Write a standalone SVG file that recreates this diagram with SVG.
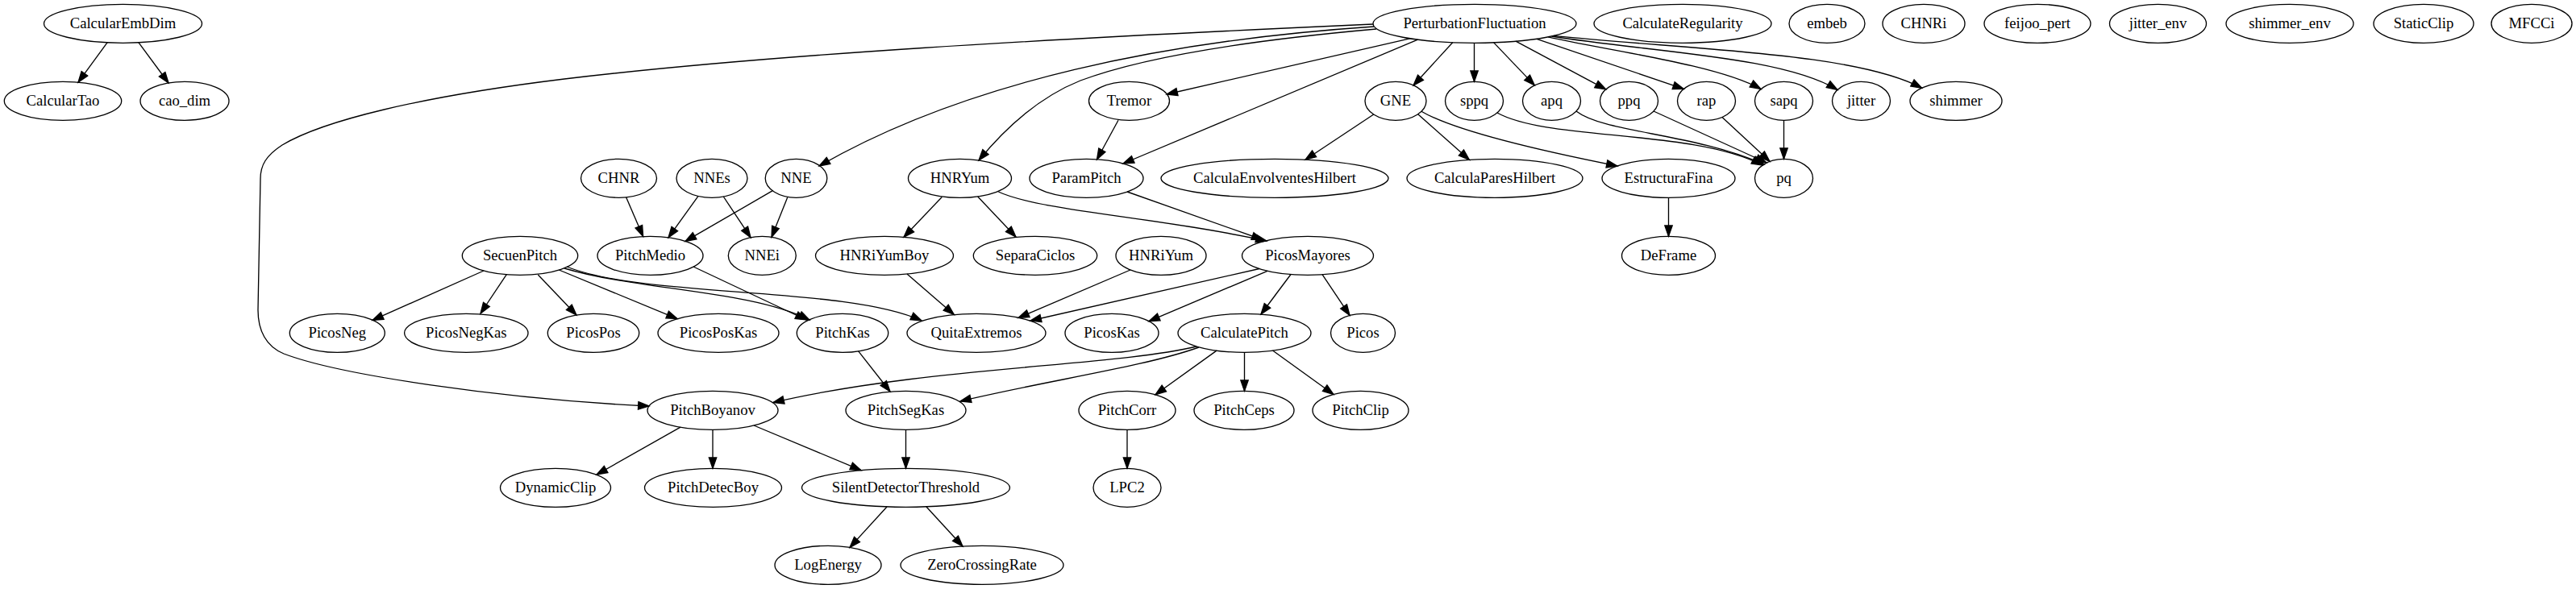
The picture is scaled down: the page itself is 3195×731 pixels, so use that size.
<svg xmlns="http://www.w3.org/2000/svg" width="3195" height="731" viewBox="0 0 3195 731">
<style>
.n ellipse{fill:none;stroke:#000;stroke-width:1.33}
.n text{font-family:"Liberation Serif","Times New Roman",serif;font-size:18.67px;text-anchor:middle;fill:#000}
#edges path{fill:none;stroke:#000;stroke-width:1.33;marker-end:url(#ah)}
</style>
<defs>
<marker id="ah" markerUnits="userSpaceOnUse" markerWidth="20" markerHeight="20" refX="13.33" refY="4.67" orient="auto" overflow="visible"><path d="M0,0 L13.33,4.67 L0,9.33 Z" fill="#000" stroke="#000" stroke-width="1.33"/></marker>
</defs>
<rect width="3195" height="731" fill="#fff"/>
<g id="edges">
<path d="M133,52.8 L97,102.1"/>
<path d="M172,52.8 L209,103"/>
<path d="M1703,30 C1300,48 950,68 700,98 C520,120 400,150 350,180 C330,193 323,205 323,222 L320,385 C320,410 330,430 352,439 C420,465 620,495 805,504"/>
<path d="M1704,33 C1450,50 1200,100 1016,206"/>
<path d="M1707,36 C1550,50 1420,70 1340,100 C1290,120 1250,155 1214,199"/>
<path d="M1748.5,47.8 L1447,117"/>
<path d="M1758.5,49.2 L1393,203"/>
<path d="M1801.7,52.7 L1753,106"/>
<path d="M1828.5,53.3 L1828.5,101.3"/>
<path d="M1852.7,52.9 L1903.3,105.9"/>
<path d="M1880,51.2 L1991.7,110.9"/>
<path d="M1906,48.3 L2088.3,110.4"/>
<path d="M1920,45.9 C1990,62 2130,80 2184,110.6"/>
<path d="M1924.5,45 C2050,65 2210,70 2279,111.5"/>
<path d="M1927,44.4 C2100,62 2300,65 2383.7,109.2"/>
<path d="M1387,149.3 L1360.5,198"/>
<path d="M1703.7,142 L1619,198.2"/>
<path d="M1758.7,141.7 L1822.4,198.3"/>
<path d="M1763,138.2 C1800,160 1900,185 2006,206"/>
<path d="M2069.5,245.3 L2069.5,293.3"/>
<path d="M1857,140 C1920,175 2100,160 2186,205"/>
<path d="M1955,138 C1990,165 2100,165 2188,204"/>
<path d="M2051,138 L2191,202"/>
<path d="M2136,145.5 L2195,200.3"/>
<path d="M2212.5,149.3 L2212.5,197.3"/>
<path d="M776.6,244.8 L797.6,293.5"/>
<path d="M866,243.4 L829,294.8"/>
<path d="M897.3,244 L931,294.7"/>
<path d="M958.3,236.7 L850,299.4"/>
<path d="M976.7,245 L957,294.3"/>
<path d="M1168.3,244.5 L1121,294.3"/>
<path d="M1212.7,244 L1260,294"/>
<path d="M1238.3,238 C1290,262 1440,270 1571,299"/>
<path d="M1398,238 L1566,297.5"/>
<path d="M600,336 L462,397.4"/>
<path d="M628.3,340.6 L596,389"/>
<path d="M667.3,341 L715,391"/>
<path d="M693.3,335 L840,395.6"/>
<path d="M700,333 C790,360 930,360 1004,397"/>
<path d="M703,331 C800,370 1050,355 1143,398"/>
<path d="M860,331 L1000,397"/>
<path d="M1125,340 L1183.3,390.5"/>
<path d="M1402,335 L1263,394.5"/>
<path d="M1562,333.5 L1278,398"/>
<path d="M1572,336.3 L1425,398.7"/>
<path d="M1601,340.5 L1564,390"/>
<path d="M1640,340.7 L1674,391.4"/>
<path d="M1064.5,435.7 L1104,486"/>
<path d="M1484,430 C1380,455 1150,455 959,499.5"/>
<path d="M1487,431 C1420,455 1300,472 1191,498"/>
<path d="M1509,435.1 L1433,489.8"/>
<path d="M1543.5,437.3 L1543.5,485.3"/>
<path d="M1578.5,435 L1654,489.5"/>
<path d="M844,530.2 L740,589"/>
<path d="M884,533.3 L884,581.3"/>
<path d="M935,528 L1068,583.6"/>
<path d="M1123.5,533.3 L1123.5,581.3"/>
<path d="M1398,533.3 L1398,581.3"/>
<path d="M1100,629 L1054,679.4"/>
<path d="M1149,629 L1194,678"/>
</g>
<g id="CalcularEmbDim" class="n"><ellipse cx="152.5" cy="29.3" rx="98" ry="24"/><text x="152.5" y="34.9">CalcularEmbDim</text></g>
<g id="PerturbationFluctuation" class="n"><ellipse cx="1829" cy="29.3" rx="126" ry="24"/><text x="1829" y="34.9">PerturbationFluctuation</text></g>
<g id="CalculateRegularity" class="n"><ellipse cx="2087" cy="29.3" rx="110" ry="24"/><text x="2087" y="34.9">CalculateRegularity</text></g>
<g id="embeb" class="n"><ellipse cx="2266" cy="29.3" rx="47" ry="24"/><text x="2266" y="34.9">embeb</text></g>
<g id="CHNRi" class="n"><ellipse cx="2386" cy="29.3" rx="51" ry="24"/><text x="2386" y="34.9">CHNRi</text></g>
<g id="feijoo_pert" class="n"><ellipse cx="2527" cy="29.3" rx="66" ry="24"/><text x="2527" y="34.9">feijoo_pert</text></g>
<g id="jitter_env" class="n"><ellipse cx="2676.5" cy="29.3" rx="60" ry="24"/><text x="2676.5" y="34.9">jitter_env</text></g>
<g id="shimmer_env" class="n"><ellipse cx="2840" cy="29.3" rx="79" ry="24"/><text x="2840" y="34.9">shimmer_env</text></g>
<g id="StaticClip" class="n"><ellipse cx="3006" cy="29.3" rx="62" ry="24"/><text x="3006" y="34.9">StaticClip</text></g>
<g id="MFCCi" class="n"><ellipse cx="3140" cy="29.3" rx="50" ry="24"/><text x="3140" y="34.9">MFCCi</text></g>
<g id="CalcularTao" class="n"><ellipse cx="78" cy="125.3" rx="72.7" ry="24"/><text x="78" y="130.9">CalcularTao</text></g>
<g id="cao_dim" class="n"><ellipse cx="229" cy="125.3" rx="55" ry="24"/><text x="229" y="130.9">cao_dim</text></g>
<g id="Tremor" class="n"><ellipse cx="1400.5" cy="125.3" rx="50" ry="24"/><text x="1400.5" y="130.9">Tremor</text></g>
<g id="GNE" class="n"><ellipse cx="1731" cy="125.3" rx="38" ry="24"/><text x="1731" y="130.9">GNE</text></g>
<g id="sppq" class="n"><ellipse cx="1828.5" cy="125.3" rx="36" ry="24"/><text x="1828.5" y="130.9">sppq</text></g>
<g id="apq" class="n"><ellipse cx="1924.5" cy="125.3" rx="36" ry="24"/><text x="1924.5" y="130.9">apq</text></g>
<g id="ppq" class="n"><ellipse cx="2020.5" cy="125.3" rx="36" ry="24"/><text x="2020.5" y="130.9">ppq</text></g>
<g id="rap" class="n"><ellipse cx="2116.5" cy="125.3" rx="36" ry="24"/><text x="2116.5" y="130.9">rap</text></g>
<g id="sapq" class="n"><ellipse cx="2212.5" cy="125.3" rx="36" ry="24"/><text x="2212.5" y="130.9">sapq</text></g>
<g id="jitter" class="n"><ellipse cx="2308.5" cy="125.3" rx="36" ry="24"/><text x="2308.5" y="130.9">jitter</text></g>
<g id="shimmer" class="n"><ellipse cx="2426" cy="125.3" rx="57" ry="24"/><text x="2426" y="130.9">shimmer</text></g>
<g id="CHNR" class="n"><ellipse cx="767.5" cy="221.3" rx="47" ry="24"/><text x="767.5" y="226.9">CHNR</text></g>
<g id="NNEs" class="n"><ellipse cx="883" cy="221.3" rx="44" ry="24"/><text x="883" y="226.9">NNEs</text></g>
<g id="NNE" class="n"><ellipse cx="987.5" cy="221.3" rx="38.3" ry="24"/><text x="987.5" y="226.9">NNE</text></g>
<g id="HNRYum" class="n"><ellipse cx="1190.5" cy="221.3" rx="64" ry="24"/><text x="1190.5" y="226.9">HNRYum</text></g>
<g id="ParamPitch" class="n"><ellipse cx="1347.5" cy="221.3" rx="70.5" ry="24"/><text x="1347.5" y="226.9">ParamPitch</text></g>
<g id="CalculaEnvolventesHilbert" class="n"><ellipse cx="1581" cy="221.3" rx="141" ry="24"/><text x="1581" y="226.9">CalculaEnvolventesHilbert</text></g>
<g id="CalculaParesHilbert" class="n"><ellipse cx="1854" cy="221.3" rx="109" ry="24"/><text x="1854" y="226.9">CalculaParesHilbert</text></g>
<g id="EstructuraFina" class="n"><ellipse cx="2069.5" cy="221.3" rx="82.5" ry="24"/><text x="2069.5" y="226.9">EstructuraFina</text></g>
<g id="pq" class="n"><ellipse cx="2212.5" cy="221.3" rx="36" ry="24"/><text x="2212.5" y="226.9">pq</text></g>
<g id="SecuenPitch" class="n"><ellipse cx="645" cy="317.3" rx="71.7" ry="24"/><text x="645" y="322.9">SecuenPitch</text></g>
<g id="PitchMedio" class="n"><ellipse cx="806.5" cy="317.3" rx="65.5" ry="24"/><text x="806.5" y="322.9">PitchMedio</text></g>
<g id="NNEi" class="n"><ellipse cx="945.3" cy="317.3" rx="42" ry="24"/><text x="945.3" y="322.9">NNEi</text></g>
<g id="HNRiYumBoy" class="n"><ellipse cx="1097" cy="317.3" rx="85.5" ry="24"/><text x="1097" y="322.9">HNRiYumBoy</text></g>
<g id="SeparaCiclos" class="n"><ellipse cx="1284" cy="317.3" rx="76.7" ry="24"/><text x="1284" y="322.9">SeparaCiclos</text></g>
<g id="HNRiYum" class="n"><ellipse cx="1440" cy="317.3" rx="56" ry="24"/><text x="1440" y="322.9">HNRiYum</text></g>
<g id="PicosMayores" class="n"><ellipse cx="1622" cy="317.3" rx="81.5" ry="24"/><text x="1622" y="322.9">PicosMayores</text></g>
<g id="DeFrame" class="n"><ellipse cx="2069.5" cy="317.3" rx="58" ry="24"/><text x="2069.5" y="322.9">DeFrame</text></g>
<g id="PicosNeg" class="n"><ellipse cx="418.3" cy="413.3" rx="59" ry="24"/><text x="418.3" y="418.9">PicosNeg</text></g>
<g id="PicosNegKas" class="n"><ellipse cx="578.3" cy="413.3" rx="76.7" ry="24"/><text x="578.3" y="418.9">PicosNegKas</text></g>
<g id="PicosPos" class="n"><ellipse cx="736" cy="413.3" rx="56.7" ry="24"/><text x="736" y="418.9">PicosPos</text></g>
<g id="PicosPosKas" class="n"><ellipse cx="891" cy="413.3" rx="75" ry="24"/><text x="891" y="418.9">PicosPosKas</text></g>
<g id="PitchKas" class="n"><ellipse cx="1045" cy="413.3" rx="56.7" ry="24"/><text x="1045" y="418.9">PitchKas</text></g>
<g id="QuitaExtremos" class="n"><ellipse cx="1211" cy="413.3" rx="86" ry="24"/><text x="1211" y="418.9">QuitaExtremos</text></g>
<g id="PicosKas" class="n"><ellipse cx="1379" cy="413.3" rx="58" ry="24"/><text x="1379" y="418.9">PicosKas</text></g>
<g id="CalculatePitch" class="n"><ellipse cx="1543.5" cy="413.3" rx="82.5" ry="24"/><text x="1543.5" y="418.9">CalculatePitch</text></g>
<g id="Picos" class="n"><ellipse cx="1690.5" cy="413.3" rx="40" ry="24"/><text x="1690.5" y="418.9">Picos</text></g>
<g id="PitchBoyanov" class="n"><ellipse cx="884" cy="509.3" rx="81" ry="24"/><text x="884" y="514.9">PitchBoyanov</text></g>
<g id="PitchSegKas" class="n"><ellipse cx="1123.5" cy="509.3" rx="74.5" ry="24"/><text x="1123.5" y="514.9">PitchSegKas</text></g>
<g id="PitchCorr" class="n"><ellipse cx="1398" cy="509.3" rx="60" ry="24"/><text x="1398" y="514.9">PitchCorr</text></g>
<g id="PitchCeps" class="n"><ellipse cx="1543" cy="509.3" rx="62" ry="24"/><text x="1543" y="514.9">PitchCeps</text></g>
<g id="PitchClip" class="n"><ellipse cx="1687.5" cy="509.3" rx="59.5" ry="24"/><text x="1687.5" y="514.9">PitchClip</text></g>
<g id="DynamicClip" class="n"><ellipse cx="689" cy="605.3" rx="68.5" ry="24"/><text x="689" y="610.9">DynamicClip</text></g>
<g id="PitchDetecBoy" class="n"><ellipse cx="884.5" cy="605.3" rx="85" ry="24"/><text x="884.5" y="610.9">PitchDetecBoy</text></g>
<g id="SilentDetectorThreshold" class="n"><ellipse cx="1123.5" cy="605.3" rx="129" ry="24"/><text x="1123.5" y="610.9">SilentDetectorThreshold</text></g>
<g id="LPC2" class="n"><ellipse cx="1398" cy="605.3" rx="42" ry="24"/><text x="1398" y="610.9">LPC2</text></g>
<g id="LogEnergy" class="n"><ellipse cx="1027" cy="701.3" rx="66" ry="24"/><text x="1027" y="706.9">LogEnergy</text></g>
<g id="ZeroCrossingRate" class="n"><ellipse cx="1218" cy="701.3" rx="101" ry="24"/><text x="1218" y="706.9">ZeroCrossingRate</text></g>
</svg>
